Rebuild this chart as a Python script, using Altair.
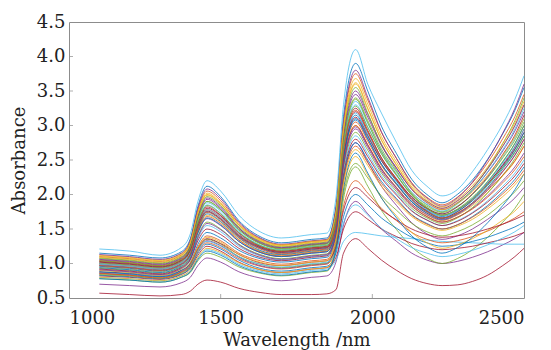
import altair as alt
import pandas as pd

# ---- data ----
wavelength = [1100, 1200, 1300, 1370, 1400, 1425, 1455, 1500, 1560, 1630, 1700, 1800, 1850,
              1880, 1905, 1945, 1985, 2030, 2080, 2130, 2180, 2230, 2280, 2330, 2380, 2430, 2470, 2500]

top_spectrum = [1.21, 1.18, 1.12, 1.23, 1.43, 1.90, 2.20, 2.05, 1.70, 1.46, 1.37, 1.42, 1.44,
                1.95, 3.30, 4.10, 3.60, 3.18, 2.75, 2.35, 2.12, 1.98, 2.07, 2.33, 2.65, 3.02, 3.38, 3.72]

bottom_spectrum = [0.57, 0.55, 0.53, 0.55, 0.60, 0.70, 0.76, 0.73, 0.64, 0.58, 0.55, 0.55, 0.56,
                   0.62, 1.15, 1.36, 1.22, 1.05, 0.90, 0.78, 0.71, 0.68, 0.69, 0.74, 0.83, 0.97, 1.10, 1.22]

main_spectra = [
    [1.15, 1.12, 1.08, 1.17, 1.36, 1.83, 2.12, 1.97, 1.62, 1.39, 1.30, 1.35, 1.37, 1.83, 3.13, 3.90, 3.50, 2.99, 2.59, 2.22, 2.00, 1.88, 2.00, 2.21, 2.51, 2.88, 3.22, 3.55],
    [1.10, 1.07, 1.03, 1.12, 1.31, 1.77, 2.05, 1.91, 1.58, 1.36, 1.27, 1.32, 1.34, 1.78, 3.02, 3.75, 3.37, 2.90, 2.52, 2.17, 1.96, 1.85, 1.96, 2.17, 2.46, 2.81, 3.13, 3.45],
    [1.12, 1.09, 1.05, 1.14, 1.32, 1.74, 2.00, 1.87, 1.55, 1.33, 1.25, 1.30, 1.32, 1.74, 2.90, 3.60, 3.24, 2.79, 2.43, 2.11, 1.91, 1.80, 1.90, 2.10, 2.37, 2.70, 3.00, 3.30],
    [1.05, 1.02, 0.98, 1.07, 1.25, 1.68, 1.95, 1.82, 1.51, 1.30, 1.22, 1.27, 1.29, 1.70, 2.83, 3.50, 3.16, 2.73, 2.38, 2.07, 1.88, 1.78, 1.88, 2.06, 2.32, 2.63, 2.92, 3.20],
    [1.08, 1.05, 1.01, 1.10, 1.26, 1.65, 1.90, 1.78, 1.49, 1.29, 1.22, 1.27, 1.29, 1.68, 2.76, 3.40, 3.07, 2.66, 2.33, 2.03, 1.85, 1.75, 1.87, 2.08, 2.38, 2.74, 3.07, 3.40],
    [1.02, 0.99, 0.95, 1.04, 1.21, 1.60, 1.85, 1.73, 1.45, 1.26, 1.19, 1.24, 1.26, 1.63, 2.68, 3.30, 2.98, 2.59, 2.27, 1.99, 1.81, 1.72, 1.82, 2.00, 2.24, 2.55, 2.82, 3.10],
    [1.00, 0.97, 0.93, 1.02, 1.18, 1.56, 1.80, 1.69, 1.42, 1.24, 1.17, 1.22, 1.24, 1.60, 2.60, 3.20, 2.90, 2.53, 2.23, 1.96, 1.79, 1.70, 1.78, 1.94, 2.16, 2.42, 2.66, 2.90],
    [0.98, 0.95, 0.91, 1.00, 1.15, 1.52, 1.75, 1.64, 1.39, 1.22, 1.15, 1.20, 1.22, 1.58, 2.56, 3.15, 2.86, 2.49, 2.19, 1.93, 1.77, 1.68, 1.77, 1.94, 2.18, 2.47, 2.74, 3.00],
    [1.04, 1.01, 0.97, 1.06, 1.21, 1.56, 1.78, 1.67, 1.41, 1.24, 1.17, 1.22, 1.24, 1.57, 2.50, 3.05, 2.77, 2.42, 2.14, 1.89, 1.73, 1.65, 1.73, 1.88, 2.09, 2.34, 2.57, 2.80],
    [0.95, 0.92, 0.88, 0.97, 1.12, 1.48, 1.70, 1.60, 1.35, 1.18, 1.12, 1.17, 1.19, 1.52, 2.45, 3.00, 2.72, 2.38, 2.10, 1.86, 1.70, 1.62, 1.70, 1.84, 2.03, 2.27, 2.48, 2.70],
    [0.97, 0.94, 0.90, 0.99, 1.13, 1.45, 1.65, 1.55, 1.32, 1.16, 1.10, 1.15, 1.17, 1.50, 2.40, 2.95, 2.68, 2.34, 2.07, 1.83, 1.68, 1.60, 1.67, 1.80, 1.98, 2.20, 2.40, 2.60],
    [0.93, 0.90, 0.86, 0.95, 1.08, 1.40, 1.60, 1.50, 1.28, 1.13, 1.07, 1.12, 1.14, 1.46, 2.36, 2.90, 2.64, 2.31, 2.04, 1.80, 1.66, 1.58, 1.66, 1.81, 2.02, 2.28, 2.52, 2.75],
    [0.90, 0.87, 0.83, 0.92, 1.05, 1.36, 1.55, 1.46, 1.25, 1.11, 1.05, 1.10, 1.12, 1.44, 2.32, 2.85, 2.59, 2.27, 2.01, 1.77, 1.63, 1.55, 1.62, 1.74, 1.91, 2.12, 2.31, 2.50],
    [0.92, 0.89, 0.85, 0.94, 1.06, 1.33, 1.50, 1.42, 1.22, 1.09, 1.04, 1.09, 1.11, 1.42, 2.28, 2.80, 2.55, 2.24, 1.99, 1.76, 1.63, 1.55, 1.61, 1.73, 1.89, 2.09, 2.27, 2.45],
    [0.88, 0.85, 0.81, 0.90, 1.01, 1.28, 1.45, 1.37, 1.19, 1.07, 1.02, 1.07, 1.09, 1.40, 2.24, 2.75, 2.50, 2.19, 1.94, 1.71, 1.58, 1.50, 1.56, 1.68, 1.84, 2.04, 2.22, 2.40],
    [0.86, 0.83, 0.79, 0.88, 0.99, 1.24, 1.40, 1.33, 1.15, 1.04, 0.99, 1.04, 1.06, 1.36, 2.20, 2.70, 2.46, 2.16, 1.92, 1.70, 1.57, 1.50, 1.56, 1.67, 1.82, 2.01, 2.18, 2.35],
    [0.90, 0.87, 0.83, 0.92, 1.02, 1.24, 1.38, 1.31, 1.13, 1.02, 0.97, 1.02, 1.04, 1.34, 2.16, 2.65, 2.42, 2.12, 1.89, 1.68, 1.55, 1.48, 1.54, 1.64, 1.79, 1.97, 2.14, 2.30],
    [1.13, 1.10, 1.06, 1.15, 1.34, 1.80, 2.08, 1.94, 1.60, 1.37, 1.28, 1.33, 1.35, 1.80, 3.05, 3.80, 3.41, 2.91, 2.52, 2.16, 1.95, 1.83, 1.95, 2.18, 2.50, 2.89, 3.25, 3.60],
    [1.07, 1.04, 1.00, 1.09, 1.27, 1.70, 1.97, 1.84, 1.53, 1.32, 1.24, 1.29, 1.31, 1.72, 2.87, 3.55, 3.18, 2.72, 2.35, 2.01, 1.81, 1.70, 1.79, 1.96, 2.19, 2.48, 2.74, 3.00],
    [1.00, 0.97, 0.93, 1.02, 1.20, 1.62, 1.88, 1.76, 1.47, 1.27, 1.20, 1.25, 1.27, 1.65, 2.71, 3.35, 3.03, 2.63, 2.32, 2.03, 1.86, 1.76, 1.86, 2.06, 2.33, 2.65, 2.95, 3.25],
    [1.03, 1.00, 0.96, 1.05, 1.21, 1.58, 1.82, 1.70, 1.44, 1.25, 1.18, 1.23, 1.25, 1.62, 2.64, 3.25, 2.93, 2.53, 2.22, 1.93, 1.76, 1.66, 1.75, 1.92, 2.15, 2.43, 2.69, 2.95],
    [0.96, 0.93, 0.89, 0.98, 1.13, 1.49, 1.72, 1.61, 1.37, 1.19, 1.13, 1.18, 1.20, 1.55, 2.52, 3.10, 2.81, 2.44, 2.15, 1.89, 1.73, 1.64, 1.72, 1.88, 2.10, 2.37, 2.61, 2.85],
    [0.99, 0.96, 0.92, 1.01, 1.15, 1.47, 1.68, 1.58, 1.34, 1.17, 1.11, 1.16, 1.18, 1.52, 2.44, 3.00, 2.72, 2.37, 2.09, 1.84, 1.68, 1.60, 1.67, 1.79, 1.96, 2.17, 2.36, 2.55],
    [1.09, 1.06, 1.02, 1.11, 1.30, 1.74, 2.02, 1.88, 1.56, 1.34, 1.26, 1.31, 1.33, 1.73, 2.97, 3.68, 3.31, 2.84, 2.47, 2.14, 1.93, 1.82, 1.93, 2.13, 2.40, 2.74, 3.04, 3.35],
    [1.06, 1.03, 0.99, 1.08, 1.25, 1.67, 1.93, 1.80, 1.51, 1.31, 1.23, 1.28, 1.30, 1.67, 2.81, 3.45, 3.12, 2.71, 2.38, 2.08, 1.90, 1.80, 1.91, 2.10, 2.37, 2.70, 3.00, 3.30],
    [1.01, 0.98, 0.94, 1.03, 1.20, 1.59, 1.84, 1.72, 1.45, 1.26, 1.19, 1.24, 1.26, 1.60, 2.67, 3.28, 2.97, 2.59, 2.28, 2.00, 1.83, 1.74, 1.83, 2.00, 2.24, 2.53, 2.79, 3.05],
    [0.99, 0.96, 0.92, 1.01, 1.17, 1.54, 1.78, 1.67, 1.41, 1.23, 1.16, 1.21, 1.23, 1.56, 2.60, 3.18, 2.88, 2.51, 2.21, 1.94, 1.78, 1.69, 1.78, 1.94, 2.17, 2.45, 2.70, 2.95],
    [1.02, 0.99, 0.95, 1.04, 1.19, 1.54, 1.76, 1.65, 1.40, 1.23, 1.16, 1.21, 1.23, 1.55, 2.55, 3.12, 2.84, 2.49, 2.21, 1.96, 1.80, 1.72, 1.82, 2.01, 2.26, 2.58, 2.86, 3.15],
    [0.94, 0.91, 0.87, 0.96, 1.10, 1.44, 1.66, 1.56, 1.32, 1.16, 1.10, 1.15, 1.17, 1.49, 2.51, 3.08, 2.80, 2.44, 2.16, 1.90, 1.75, 1.66, 1.75, 1.91, 2.13, 2.40, 2.65, 2.90],
    [0.97, 0.94, 0.90, 0.99, 1.14, 1.51, 1.74, 1.63, 1.38, 1.21, 1.14, 1.19, 1.21, 1.55, 2.62, 3.22, 2.91, 2.52, 2.21, 1.93, 1.75, 1.66, 1.73, 1.87, 2.06, 2.28, 2.49, 2.70],
    [1.11, 1.08, 1.04, 1.13, 1.31, 1.73, 1.99, 1.86, 1.56, 1.35, 1.27, 1.32, 1.34, 1.73, 2.94, 3.62, 3.25, 2.79, 2.42, 2.09, 1.89, 1.78, 1.87, 2.04, 2.28, 2.57, 2.84, 3.10],
    [0.91, 0.88, 0.84, 0.93, 1.06, 1.38, 1.58, 1.49, 1.27, 1.12, 1.06, 1.11, 1.13, 1.44, 2.43, 2.98, 2.71, 2.37, 2.10, 1.86, 1.71, 1.63, 1.71, 1.86, 2.07, 2.33, 2.57, 2.80],
    [1.04, 1.01, 0.97, 1.06, 1.23, 1.64, 1.90, 1.78, 1.49, 1.29, 1.21, 1.26, 1.28, 1.64, 2.75, 3.38, 3.04, 2.62, 2.29, 1.99, 1.80, 1.70, 1.78, 1.93, 2.14, 2.39, 2.62, 2.85],
]

lower_spectra = [
    [0.70, 0.68, 0.66, 0.72, 0.80, 0.97, 1.08, 1.02, 0.88, 0.79, 0.75, 0.80, 0.82, 1.02, 1.56, 1.90, 1.72, 1.50, 1.32, 1.15, 1.05, 1.00, 1.03, 1.09, 1.17, 1.27, 1.36, 1.45],
    [0.78, 0.76, 0.73, 0.80, 0.87, 1.04, 1.15, 1.09, 0.95, 0.86, 0.82, 0.87, 0.89, 1.17, 1.94, 2.40, 2.12, 1.77, 1.49, 1.24, 1.08, 1.00, 1.07, 1.20, 1.38, 1.60, 1.80, 2.00],
    [0.80, 0.78, 0.75, 0.82, 0.90, 1.08, 1.20, 1.14, 0.99, 0.89, 0.85, 0.90, 0.92, 1.05, 1.32, 1.45, 1.43, 1.40, 1.38, 1.36, 1.34, 1.32, 1.31, 1.30, 1.29, 1.28, 1.28, 1.28],
    [0.82, 0.80, 0.77, 0.84, 0.93, 1.12, 1.25, 1.18, 1.02, 0.91, 0.87, 0.92, 0.94, 1.09, 1.50, 1.75, 1.64, 1.50, 1.39, 1.29, 1.23, 1.20, 1.22, 1.25, 1.30, 1.35, 1.40, 1.45],
    [0.83, 0.81, 0.78, 0.85, 0.94, 1.15, 1.28, 1.21, 1.05, 0.93, 0.89, 0.94, 0.96, 1.15, 1.68, 2.00, 1.85, 1.66, 1.51, 1.38, 1.30, 1.25, 1.27, 1.32, 1.38, 1.46, 1.53, 1.60],
    [0.85, 0.83, 0.80, 0.87, 0.96, 1.17, 1.30, 1.23, 1.07, 0.96, 0.92, 0.97, 0.99, 1.22, 1.83, 2.20, 2.02, 1.80, 1.62, 1.45, 1.35, 1.30, 1.33, 1.39, 1.47, 1.57, 1.66, 1.75],
    [0.80, 0.78, 0.75, 0.82, 0.90, 1.09, 1.22, 1.16, 1.01, 0.91, 0.87, 0.92, 0.94, 1.24, 2.06, 2.55, 2.28, 1.95, 1.69, 1.45, 1.30, 1.22, 1.27, 1.36, 1.48, 1.63, 1.76, 1.90],
    [0.86, 0.84, 0.81, 0.88, 0.97, 1.19, 1.33, 1.26, 1.09, 0.97, 0.93, 0.98, 1.00, 1.32, 2.21, 2.75, 2.47, 2.12, 1.84, 1.59, 1.43, 1.35, 1.40, 1.50, 1.64, 1.80, 1.95, 2.10],
    [0.84, 0.82, 0.79, 0.86, 0.96, 1.20, 1.35, 1.28, 1.10, 0.99, 0.94, 0.99, 1.01, 1.28, 2.01, 2.45, 2.24, 1.98, 1.77, 1.58, 1.46, 1.40, 1.46, 1.56, 1.70, 1.88, 2.04, 2.20],
    [0.87, 0.85, 0.82, 0.89, 0.98, 1.19, 1.32, 1.25, 1.10, 0.99, 0.95, 1.00, 1.02, 1.18, 1.59, 1.85, 1.70, 1.51, 1.36, 1.23, 1.15, 1.10, 1.13, 1.19, 1.27, 1.37, 1.46, 1.55],
    [0.88, 0.86, 0.83, 0.90, 1.00, 1.22, 1.36, 1.29, 1.13, 1.01, 0.97, 1.02, 1.04, 1.24, 1.77, 2.10, 1.96, 1.78, 1.63, 1.50, 1.42, 1.38, 1.40, 1.44, 1.50, 1.57, 1.64, 1.70],
    [0.78, 0.76, 0.73, 0.80, 0.88, 1.06, 1.18, 1.12, 0.97, 0.87, 0.83, 0.88, 0.90, 1.21, 2.08, 2.60, 2.31, 1.95, 1.66, 1.40, 1.24, 1.15, 1.23, 1.38, 1.59, 1.84, 2.07, 2.30],
]

x_ticks = [1000, 1500, 2000, 2500]
y_ticks = [0.5, 1.0, 1.5, 2.0, 2.5, 3.0, 3.5, 4.0, 4.5]

# ---- styles ----
palette = ["#0072BD", "#D95319", "#EDB120", "#7E2F8E", "#77AC30", "#4DBEEE", "#A2142F"]
top_color = "#4DBEEE"
bottom_color = "#A2142F"
frame_color = "#8c8c8c"
font = "DejaVu Serif"

rows = []
ids = []
colors = []


def add_series(values, color):
    sid = "s%03d" % len(ids)
    ids.append(sid)
    colors.append(color)
    for w, a in zip(wavelength, values):
        rows.append({"id": sid, "wavelength": w, "absorbance": a})


for i, s in enumerate(lower_spectra):
    add_series(s, palette[(i + 3) % len(palette)])
for i, s in enumerate(main_spectra):
    add_series(s, palette[i % len(palette)])
add_series(top_spectrum, top_color)
add_series(bottom_spectrum, bottom_color)

df = pd.DataFrame(rows)

x_scale = alt.Scale(domain=[1000, 2500], nice=False, zero=False)
y_scale = alt.Scale(domain=[0.5, 4.5], nice=False, zero=False)
x_axis = alt.Axis(values=x_ticks, format="d", title="Wavelength /nm", labelOverlap=False,
                  labelPadding=11, titleY=47, titleBaseline="alphabetic")
y_axis = alt.Axis(values=y_ticks, format=".1f", title="Absorbance", labelOverlap=False,
                  labelPadding=4, titlePadding=8)

lines = alt.Chart(df).mark_line(strokeWidth=0.8, interpolate="monotone").encode(
    x=alt.X("wavelength:Q", scale=x_scale, axis=x_axis),
    y=alt.Y("absorbance:Q", scale=y_scale, axis=y_axis),
    color=alt.Color("id:N", scale=alt.Scale(domain=ids, range=colors), legend=None),
    detail="id:N",
)

ytick_df = pd.DataFrame({"absorbance": y_ticks[1:-1]})
xtick_df = pd.DataFrame({"wavelength": x_ticks[1:-1]})

yticks = alt.Chart(ytick_df).mark_tick(orient="horizontal", size=4, thickness=1, xOffset=2,
                                       color=frame_color).encode(
    y=alt.Y("absorbance:Q", scale=y_scale, axis=None),
    x=alt.datum(1000, axis=None),
)
xticks = alt.Chart(xtick_df).mark_tick(orient="vertical", size=4, thickness=1, yOffset=-2,
                                       color=frame_color).encode(
    x=alt.X("wavelength:Q", scale=x_scale, axis=None),
    y=alt.datum(0.5, axis=None),
)

chart = alt.layer(lines, yticks, xticks).resolve_axis(
    x="independent", y="independent"
).properties(
    width=455,
    height=276,
    padding={"left": 61, "top": 14, "right": 19, "bottom": 52},
    autosize=alt.AutoSizeParams(type="none"),
).configure_view(
    stroke=frame_color, strokeWidth=1
).configure_axis(
    domain=False, grid=False, ticks=False, tickSize=0,
    labelFont=font, labelFontSize=18, labelColor="#222222",
    titleFont=font, titleFontSize=18, titleFontWeight="normal", titleColor="#222222",
)

chart.save("out.html", embed_options={"renderer": "svg", "actions": False})
